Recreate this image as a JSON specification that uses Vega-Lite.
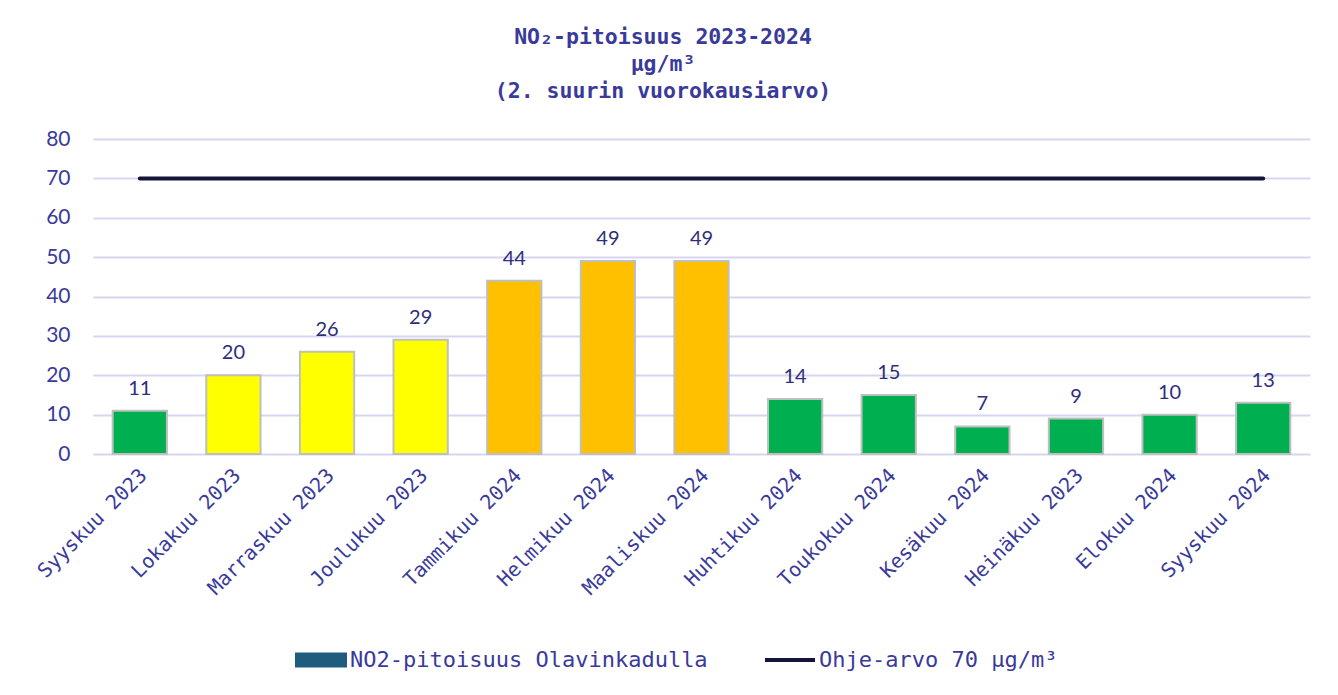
{
  "$schema": "https://vega.github.io/schema/vega-lite/v6.json",
  "autosize": "none",
  "width": 1217,
  "height": 315,
  "padding": {"left": 93, "top": 139, "right": 28, "bottom": 241},
  "background": "white",
  "config": {
    "view": {"stroke": null},
    "axisY": {
      "title": null,
      "values": [0, 10, 20, 30, 40, 50, 60, 70, 80],
      "labelOverlap": false,
      "domain": false,
      "ticks": false,
      "labelPadding": 23,
      "labelFont": "Lato",
      "labelFontSize": 21,
      "labelColor": "#3A3A9A",
      "gridColor": "#D6D6F2",
      "gridWidth": 2
    }
  },
  "title": {
    "text": ["NO₂-pitoisuus 2023-2024", "µg/m³", "(2. suurin vuorokausiarvo)"],
    "font": "DejaVu Sans Mono",
    "fontWeight": "bold",
    "fontSize": 21.5,
    "lineHeight": 27,
    "color": "#3A3A9A",
    "anchor": "middle",
    "frame": "bounds",
    "dx": -9,
    "offset": 26
  },
  "data": {
    "values": [
      {"kuukausi": "Syyskuu 2023", "arvo": 11, "laatu": "hyvä", "ohje": 70},
      {"kuukausi": "Lokakuu 2023", "arvo": 20, "laatu": "tyydyttävä", "ohje": 70},
      {"kuukausi": "Marraskuu 2023", "arvo": 26, "laatu": "tyydyttävä", "ohje": 70},
      {"kuukausi": "Joulukuu 2023", "arvo": 29, "laatu": "tyydyttävä", "ohje": 70},
      {"kuukausi": "Tammikuu 2024", "arvo": 44, "laatu": "välttävä", "ohje": 70},
      {"kuukausi": "Helmikuu 2024", "arvo": 49, "laatu": "välttävä", "ohje": 70},
      {"kuukausi": "Maaliskuu 2024", "arvo": 49, "laatu": "välttävä", "ohje": 70},
      {"kuukausi": "Huhtikuu 2024", "arvo": 14, "laatu": "hyvä", "ohje": 70},
      {"kuukausi": "Toukokuu 2024", "arvo": 15, "laatu": "hyvä", "ohje": 70},
      {"kuukausi": "Kesäkuu 2024", "arvo": 7, "laatu": "hyvä", "ohje": 70},
      {"kuukausi": "Heinäkuu 2023", "arvo": 9, "laatu": "hyvä", "ohje": 70},
      {"kuukausi": "Elokuu 2024", "arvo": 10, "laatu": "hyvä", "ohje": 70},
      {"kuukausi": "Syyskuu 2024", "arvo": 13, "laatu": "hyvä", "ohje": 70}
    ]
  },
  "encoding": {
    "x": {
      "field": "kuukausi",
      "type": "nominal",
      "sort": null,
      "scale": {"paddingInner": 0.42, "paddingOuter": 0.21},
      "axis": {
        "title": null,
        "domain": false,
        "ticks": false,
        "labelAngle": -45,
        "labelAlign": "right",
        "labelBaseline": "middle",
        "labelPadding": 18,
        "labelOffset": 4,
        "labelFont": "DejaVu Sans Mono",
        "labelFontSize": 20,
        "labelColor": "#3A3A9A",
        "labelOverlap": false,
        "labelLimit": 0
      }
    }
  },
  "layer": [
    {
      "mark": {"type": "bar", "stroke": "#BFBFBF", "strokeWidth": 2},
      "encoding": {
        "y": {
          "field": "arvo",
          "type": "quantitative",
          "title": null,
          "scale": {"domain": [0, 80], "nice": false}
        },
        "fill": {
          "field": "laatu",
          "type": "nominal",
          "scale": {"domain": ["hyvä", "tyydyttävä", "välttävä"], "range": ["#00B050", "#FFFF00", "#FFC000"]},
          "legend": null
        }
      }
    },
    {
      "mark": {"type": "text", "baseline": "alphabetic", "dy": -16, "font": "Lato", "fontSize": 20, "color": "#2E2E7A"},
      "encoding": {
        "y": {"field": "arvo", "type": "quantitative", "title": null},
        "text": {"field": "arvo", "type": "quantitative"}
      }
    },
    {
      "mark": {"type": "line", "strokeWidth": 4, "strokeCap": "round"},
      "encoding": {
        "y": {"field": "ohje", "type": "quantitative", "title": null},
        "stroke": {
          "datum": "Ohje-arvo 70 µg/m³",
          "type": "nominal",
          "scale": {"domain": ["NO2-pitoisuus Olavinkadulla", "Ohje-arvo 70 µg/m³"], "range": ["#1F5C7E", "#14143C"]},
          "legend": {
            "orient": "none",
            "legendX": 217,
            "legendY": 510,
            "direction": "horizontal",
            "title": null,
            "padding": 0,
            "symbolSize": 2500,
            "labelFont": "DejaVu Sans Mono",
            "labelFontSize": 22,
            "labelColor": "#3A3A9A",
            "labelOffset": 18,
            "columnPadding": 49,
            "labelLimit": 0,
            "encode": {
              "symbols": {
                "update": {
                  "shape": {"signal": "datum.value == 'NO2-pitoisuus Olavinkadulla' ? 'M-1,-0.26H1V0.26H-1Z' : 'stroke'"},
                  "fill": {"signal": "datum.value == 'NO2-pitoisuus Olavinkadulla' ? '#1F5C7E' : 'transparent'"},
                  "stroke": {"signal": "datum.value == 'NO2-pitoisuus Olavinkadulla' ? '#A6A6A6' : '#14143C'"},
                  "strokeWidth": {"signal": "datum.value == 'NO2-pitoisuus Olavinkadulla' ? 2 : 4"},
                  "opacity": {"value": 1}
                }
              }
            }
          }
        }
      }
    }
  ]
}
